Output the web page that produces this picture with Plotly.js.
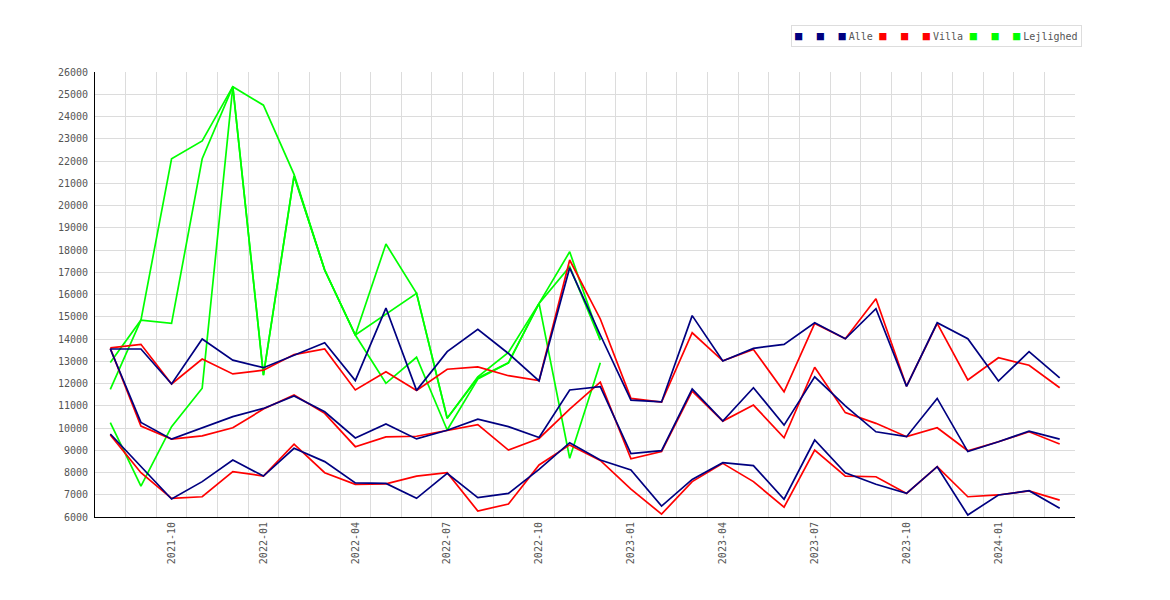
<!DOCTYPE html>
<html>
<head>
<meta charset="utf-8">
<script src="https://cdn.plot.ly/plotly-3.0.1.min.js"></script>
<style>body{margin:0;background:#fff}</style>
</head>
<body>
<div id="chart" style="width:1170px;height:600px"></div>
<script>
// months on the x axis, only every third one gets a label
var months = ["2021-08","2021-09","2021-10","2021-11","2021-12",
  "2022-01","2022-02","2022-03","2022-04","2022-05","2022-06","2022-07","2022-08","2022-09","2022-10","2022-11","2022-12",
  "2023-01","2023-02","2023-03","2023-04","2023-05","2023-06","2023-07","2023-08","2023-09","2023-10","2023-11","2023-12",
  "2024-01","2024-02","2024-03"];
var tickLabels = ["2021-10","2022-01","2022-04","2022-07","2022-10","2023-01","2023-04","2023-07","2023-10","2024-01"];

// Alle
var alleHigh = [13550,13550,11980,14000,13050,12710,13270,13830,12130,15390,11690,13430,14430,13350,12120,17200,14180,11250,11170,15050,13010,13580,13760,14730,14010,15360,11870,14730,14010,12110,13430,12250];
var alleMid  = [13550,10250,9500,9990,10510,10880,11440,10730,9550,10180,9510,9900,10400,10060,9570,11710,11860,8850,8980,11750,10310,11810,10130,12300,10990,9830,9610,11330,8940,9380,9860,9500];
var alleLow  = [9730,8250,6810,7590,8560,7840,9090,8490,7530,7510,6840,7960,6870,7060,8140,9340,8560,8110,6490,7690,8440,8310,6800,9460,7990,7470,7060,8260,6090,6990,7180,6390];

// Villa
var villaHigh = [13600,13760,11980,13100,12430,12600,13300,13550,11710,12530,11690,12640,12750,12350,12130,17550,14900,11330,11170,14280,13020,13530,11630,14700,14010,15810,11880,14700,12160,13160,12820,11810];
var villaMid  = [13580,10090,9500,9650,10010,10850,11480,10660,9160,9600,9630,9880,10150,9010,9530,10850,12060,8620,8940,11660,10310,11030,9560,12730,10690,10210,9610,10010,8980,9380,9830,9280];
var villaLow  = [9690,7990,6840,6910,8040,7840,9270,7990,7470,7490,7840,7990,6270,6580,8340,9240,8540,7250,6130,7590,8410,7590,6440,9010,7840,7810,7060,8260,6910,6990,7170,6760];

// Lejlighed (stops after 2022-12)
var lejlighedHigh = [12940,14850,22100,22900,25340,24510,21400,17100,14180,18270,16050,10440,12300,13400,15600,17920,13950];
var lejlighedMid  = [11740,14850,14700,22100,25340,12380,21330,17100,14180,15110,16050,10440,12250,12930,15600,17250,13950];
var lejlighedLow  = [10240,7390,10060,11790,25340,12380,21330,17100,14180,12010,13180,9910,12200,12930,15600,8640,12930];

var groupNames = ["Alle", "Villa", "Lejlighed"];
var groupColors = ["#000080", "#ff0000", "#00ff00"];
var groupSeries = [
  [alleHigh, alleMid, alleLow],
  [villaHigh, villaMid, villaLow],
  [lejlighedHigh, lejlighedMid, lejlighedLow]
];

var traces = [];
// draw green first, then red, navy on top
for (var g = groupSeries.length - 1; g >= 0; g--) {
  for (var s = 0; s < 3; s++) {
    traces.push({
      x: months,
      y: groupSeries[g][s],
      type: "scatter",
      mode: "lines",
      name: s == 2 ? groupNames[g] : "",
      line: {color: groupColors[g], width: 1.7},
      hoverinfo: "x+y"
    });
  }
}

var tickText = months.map(function(m){ return tickLabels.indexOf(m) >= 0 ? m : ""; });

// legend drawn as text: three squares per group then the name
var sp = '<span style="font-size:12px">\u00a0\u00a0</span>';
var thin = '<span style="font-size:5px">\u00a0</span>';
var legendText = groupNames.map(function(name, g){
  var sq = '<span style="color:' + groupColors[g] + ';font-size:12px">\u25a0</span>';
  return sq + sp + sq + sp + sq + thin + name;
}).join('<span style="font-size:11px">\u00a0</span>');

var layout = {
  width: 1170,
  height: 600,
  margin: {l: 95, r: 95, t: 72, b: 83},
  paper_bgcolor: "#fff",
  plot_bgcolor: "#fff",
  showlegend: false,
  font: {family: "DejaVu Sans Mono", size: 10, color: "#555"},
  xaxis: {
    type: "category",
    categoryorder: "array",
    categoryarray: months,
    range: [-0.5, months.length - 0.5],
    tickmode: "array",
    tickvals: months,
    ticktext: tickText,
    tickson: "boundaries",
    tickangle: -90,
    ticks: "",
    showgrid: true,
    gridcolor: "#dcdcdc",
    showline: true,
    linecolor: "#000",
    zeroline: false
  },
  yaxis: {
    range: [6000, 26000],
    tick0: 6000,
    dtick: 1000,
    tickformat: "d",
    ticks: "",
    showgrid: true,
    gridcolor: "#dcdcdc",
    showline: true,
    linecolor: "#000",
    zeroline: false,
    ticklabelstandoff: 4
  },
  annotations: [{
    xref: "paper", yref: "paper",
    x: 1.007, y: 1.081,
    xanchor: "right", yanchor: "middle",
    text: legendText,
    showarrow: false,
    align: "left",
    font: {family: "DejaVu Sans Mono", size: 10, color: "#555"},
    bordercolor: "#dddddd",
    borderwidth: 1,
    borderpad: 3
  }]
};

Plotly.newPlot("chart", traces, layout, {displayModeBar: false, staticPlot: true});
</script>
</body>
</html>
